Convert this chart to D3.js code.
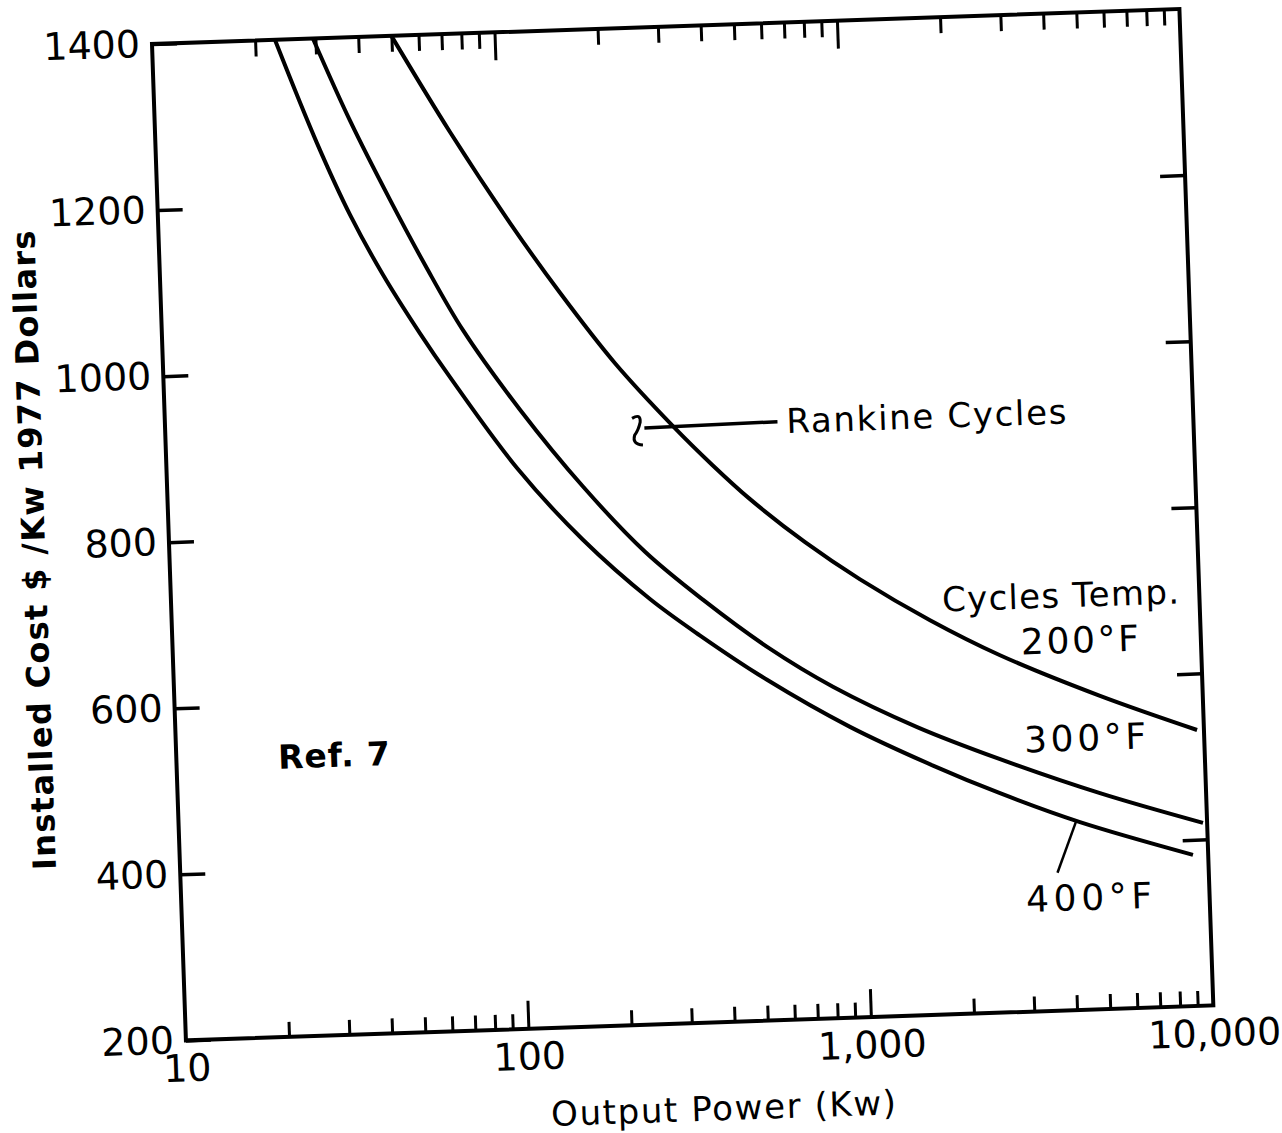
<!DOCTYPE html>
<html>
<head>
<meta charset="utf-8">
<script src="https://cdn.jsdelivr.net/npm/d3@7"></script>
<style>
  body { margin: 0; background: #fff; }
  text { font-family: "DejaVu Sans", sans-serif; fill: #000; }
</style>
</head>
<body>
<div id="chart"></div>
<script>
// Data
var xDomain = [10, 10000];
var yDomain = [200, 1400];
var yTicks = [200, 400, 600, 800, 1000, 1200, 1400];
var yRightTicks = [400, 600, 800, 1000, 1200];
var xMajor = [10, 100, 1000, 10000];
var xLabels = ["10", "100", "1,000", "10,000"];
var xMinor = [20, 30, 40, 50, 60, 70, 80, 90,
              200, 300, 400, 500, 600, 700, 800, 900,
              2000, 3000, 4000, 5000, 6000, 7000, 8000, 9000];

// 200 F cycle temp
var power200 = [50, 72.5, 106.3, 146.3, 208.3, 303, 390.5, 500, 716.5, 1028, 1629, 2586, 5016, 9548];
var cost200  = [1400, 1282, 1170, 1084, 997, 919, 871, 828, 774, 727, 675, 630, 577, 532];
// 300 F
var power300 = [29.5, 37.2, 47.7, 59.5, 75.6, 108.9, 163.3, 244.1, 356, 545, 836, 1458, 2526, 4903, 9727];
var cost300  = [1400, 1299, 1203, 1123, 1043, 945, 850, 769, 709, 649, 599, 547, 505, 460, 420];
// 400 F
var power400 = [22.85, 29.6, 36.4, 44.75, 56.6, 68.55, 105.3, 161.3, 249.6, 346.6, 537.8, 929, 1608, 2505, 4259, 9028];
var cost400  = [1400, 1274, 1186, 1113, 1041, 987, 875, 786, 712, 666, 610, 550, 500, 464, 426, 382];

// Parameters
var width = 1282;
var height = 1133;
var W = 1028;
var H = 997;
var tilt = -1.95;   // the scan is slightly rotated

var svg = d3.select("#chart").append("svg")
    .attr("width", width)
    .attr("height", height);

svg.append("rect").attr("width", width).attr("height", height).attr("fill", "#fff");

var g = svg.append("g")
    .attr("transform", "translate(152,44) rotate(" + tilt + ")");

var xScale = d3.scaleLog().domain(xDomain).range([0, W]);
var yScale = d3.scaleLinear().domain(yDomain).range([H, 0]);

g.append("clipPath").attr("id", "plotClip")
  .append("rect").attr("width", W).attr("height", H);

function styleAxis(sel, sw){
    sel.select(".domain").remove();
    sel.selectAll(".tick line").attr("stroke", "#000").attr("stroke-width", sw);
    sel.selectAll("text").attr("font-size", 38).attr("fill", "#000");
}

// Left axis: inward ticks with labels
g.append("g")
    .call(d3.axisLeft(yScale).tickValues(yTicks).tickSizeInner(-25).tickSizeOuter(0).tickPadding(12)
        .tickFormat(d3.format("d")))
    .call(styleAxis, 3.5);

// Right axis: inward ticks only
g.append("g").attr("transform", "translate(" + W + ",0)")
    .call(d3.axisRight(yScale).tickValues(yRightTicks).tickSizeInner(-25).tickSizeOuter(0).tickFormat(""))
    .call(styleAxis, 3.5);

// Top axis: log ticks hanging down
g.append("g")
    .call(d3.axisTop(xScale).tickValues(xMinor).tickSizeInner(-16).tickSizeOuter(0).tickFormat(""))
    .call(styleAxis, 3);
g.append("g")
    .call(d3.axisTop(xScale).tickValues([100, 1000]).tickSizeInner(-28).tickSizeOuter(0).tickFormat(""))
    .call(styleAxis, 3);

// Bottom axis: log ticks pointing up
g.append("g").attr("transform", "translate(0," + H + ")")
    .call(d3.axisBottom(xScale).tickValues(xMinor).tickSizeInner(-15).tickSizeOuter(0).tickFormat(""))
    .call(styleAxis, 3);
g.append("g").attr("transform", "translate(0," + H + ")")
    .call(d3.axisBottom(xScale).tickValues([100, 1000]).tickSizeInner(-28).tickSizeOuter(0).tickFormat(""))
    .call(styleAxis, 3);
g.append("g").attr("transform", "translate(0," + H + ")")
    .call(d3.axisBottom(xScale).tickValues(xMajor).tickSize(0).tickPadding(14)
        .tickFormat(function(d, i){ return xLabels[i]; }))
    .call(styleAxis, 0);

// Frame
g.append("rect")
    .attr("width", W).attr("height", H)
    .attr("fill", "none").attr("stroke", "#000").attr("stroke-width", 4);

// Curves
var series = [
    { name: "200", power: power200, cost: cost200 },
    { name: "300", power: power300, cost: cost300 },
    { name: "400", power: power400, cost: cost400 }
];

var line = d3.line()
    .x(function(d){ return xScale(d[0]); })
    .y(function(d){ return yScale(d[1]); })
    .curve(d3.curveCatmullRom.alpha(0.5));

g.append("g").attr("clip-path", "url(#plotClip)")
  .selectAll("path").data(series).enter().append("path")
    .attr("d", function(s){ return line(d3.zip(s.power, s.cost)); })
    .attr("fill", "none")
    .attr("stroke", "#000")
    .attr("stroke-width", 4)
    .attr("stroke-linejoin", "round");

// Rankine leader + squiggle
var lx0 = xScale(250), ly0 = yScale(918);
g.append("line")
    .attr("x1", lx0).attr("y1", ly0)
    .attr("x2", xScale(612)).attr("y2", yScale(920))
    .attr("stroke", "#000").attr("stroke-width", 3.5);
g.append("path")
    .attr("transform", "translate(" + lx0 + "," + ly0 + ")")
    .attr("d", "M-12,-10 Q-3,-15 -4,-6 Q-6,2 -10,7 Q-13,16 -2,17")
    .attr("fill", "none").attr("stroke", "#000").attr("stroke-width", 3);

// 400F leader
g.append("line")
    .attr("x1", xScale(4150)).attr("y1", yScale(427))
    .attr("x2", xScale(3620)).attr("y2", yScale(366))
    .attr("stroke", "#000").attr("stroke-width", 2.5);

// Annotations
function note(txt, px, cy, size, len, weight){
    return g.append("text")
        .attr("x", xScale(px)).attr("y", yScale(cy))
        .attr("font-size", size)
        .attr("font-weight", weight || "normal")
        .attr("textLength", len).attr("lengthAdjust", "spacing")
        .text(txt);
}
note("Rankine Cycles", 650, 906, 34, 280);
note("Cycles Temp.", 1775, 685, 34, 237);
note("200\u00B0F", 2985, 630, 36, 118);
note("300\u00B0F", 2983, 512, 36, 122);
note("400\u00B0F", 2915, 320, 36, 126);
note("Ref. 7", 19.8, 523, 33, 112, "bold");

// Axis titles
g.append("text")
    .attr("transform", "translate(-124,502) rotate(-90)")
    .attr("text-anchor", "middle")
    .attr("font-size", 32).attr("font-weight", "bold")
    .attr("textLength", 640).attr("lengthAdjust", "spacing")
    .text("Installed Cost $ /Kw 1977 Dollars");

g.append("text")
    .attr("x", xScale(10) + 535).attr("y", H + 98)
    .attr("text-anchor", "middle")
    .attr("font-size", 34)
    .attr("textLength", 345).attr("lengthAdjust", "spacing")
    .text("Output Power (Kw)");
</script>
</body>
</html>
